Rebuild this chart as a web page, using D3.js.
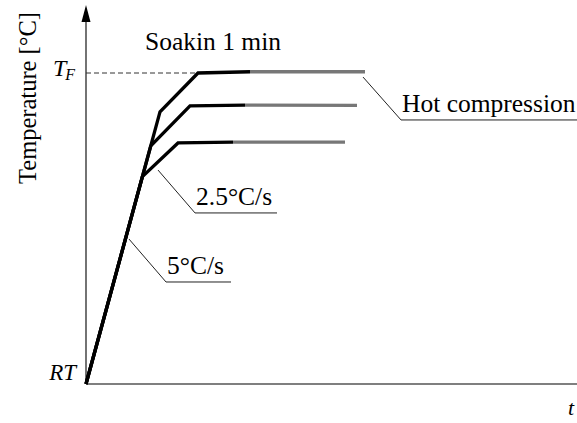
<!DOCTYPE html>
<html>
<head>
<meta charset="utf-8">
<script src="https://cdn.jsdelivr.net/npm/d3@7"></script>
<style>
  body { margin: 0; background: #fff; }
</style>
</head>
<body>
<div id="graf"></div>
<script>
// heating curves: time (arbitrary units) vs temperature (% of T_F above RT)
const topTime = [0, 37, 56, 82];
const topTemp = [0, 87.5, 100, 100.4];
const midTime = [0, 32.4, 52, 79.5];
const midTemp = [0, 76.6, 89.4, 89.7];
const lowTime = [0, 28.2, 46, 73.5];
const lowTemp = [0, 66.7, 77.5, 77.8];
// end of the hot compression (grey) part of each curve
const compressEnd = [139.5, 135.5, 129.5];
const compressTemp = [100.4, 89.6, 77.8];

const tickLabels = ["RT", "T"];
const tickValues = [0, 100];

const ancho_total = 577;
const alto_total = 423;
const fuente = "'Liberation Serif', 'Times New Roman', Tinos, 'DejaVu Serif', serif";

const x = d3.scaleLinear().domain([0, 245.5]).range([86, 577]);
const y = d3.scaleLinear().domain([0, 100]).range([384, 73]);

const svg = d3.select("#graf")
  .append("svg")
  .attr("width", ancho_total)
  .attr("height", alto_total)
  .style("display", "block");

const line = d3.line().x(d => x(d[0])).y(d => y(d[1]));

// x axis
svg.append("line")
  .attr("x1", x(0)).attr("x2", ancho_total)
  .attr("y1", y(0)).attr("y2", y(0))
  .attr("stroke", "#555").attr("stroke-width", 1.3);

// y axis with arrow
svg.append("line")
  .attr("x1", x(0)).attr("x2", x(0))
  .attr("y1", y(0)).attr("y2", 20)
  .attr("stroke", "#000").attr("stroke-width", 1.1);
svg.append("path")
  .attr("d", `M${x(0)},5 L${x(0) - 4.5},22 L${x(0) + 4.5},22 Z`)
  .attr("fill", "#000");

// T_F dashed guide
svg.append("line")
  .attr("x1", x(0)).attr("x2", x(topTime[2]))
  .attr("y1", y(tickValues[1])).attr("y2", y(tickValues[1]))
  .attr("stroke", "#333").attr("stroke-width", 1)
  .attr("stroke-dasharray", "5,3");

const curves = [
  { time: topTime, temp: topTemp },
  { time: midTime, temp: midTemp },
  { time: lowTime, temp: lowTemp },
];

// grey hot compression segments
curves.forEach((c, i) => {
  const last = c.time.length - 1;
  svg.append("path")
    .attr("d", line([[c.time[last], c.temp[last]], [compressEnd[i], compressTemp[i]]]))
    .attr("fill", "none")
    .attr("stroke", "#777")
    .attr("stroke-width", 3.3);
});

// black heating + soaking curves
curves.forEach(c => {
  svg.append("path")
    .attr("d", line(c.time.map((t, j) => [t, c.temp[j]])))
    .attr("fill", "none")
    .attr("stroke", "#000")
    .attr("stroke-width", 3.3)
    .attr("stroke-linejoin", "miter");
});

// annotations with leader lines
const notes = [
  { text: "5°C/s", from: [21.5, 46.6], elbow: [40, 32.8], end: 72.5 },
  { text: "2.5°C/s", from: [36, 68.8], elbow: [54.5, 55], end: 95.5 },
  { text: "Hot compression", from: [138.5, 98.7], elbow: [157.5, 84.9], end: 245.5 },
];

const texto = (xx, yy, size) => svg.append("text")
  .attr("x", xx).attr("y", yy)
  .attr("font-family", fuente)
  .attr("font-size", size);

notes.forEach(n => {
  svg.append("path")
    .attr("d", line([n.from, n.elbow, [n.end, n.elbow[1]]]))
    .attr("fill", "none")
    .attr("stroke", "#222")
    .attr("stroke-width", 1);
  texto(x(n.elbow[0]) + 1, y(n.elbow[1]) - 8, 25.5).text(n.text);
});

texto(145, 50, 25.5).text("Soakin 1 min");

// tick labels
texto(x(0) - 10, y(tickValues[0]) - 4, 23)
  .attr("text-anchor", "end")
  .attr("font-style", "italic")
  .text(tickLabels[0]);

const tf = texto(53, y(tickValues[1]) + 3, 24).attr("font-style", "italic");
tf.append("tspan").text(tickLabels[1]);
tf.append("tspan").attr("font-size", 16).attr("dy", 4).attr("dx", -1).text("F");

// axis titles
svg.append("text")
  .attr("transform", `translate(36, 98) rotate(-90)`)
  .attr("text-anchor", "middle")
  .attr("font-family", fuente)
  .attr("font-size", 24.5)
  .text("Temperature [°C]");

texto(568, 415, 22)
  .attr("font-style", "italic")
  .text("t");
</script>
</body>
</html>
